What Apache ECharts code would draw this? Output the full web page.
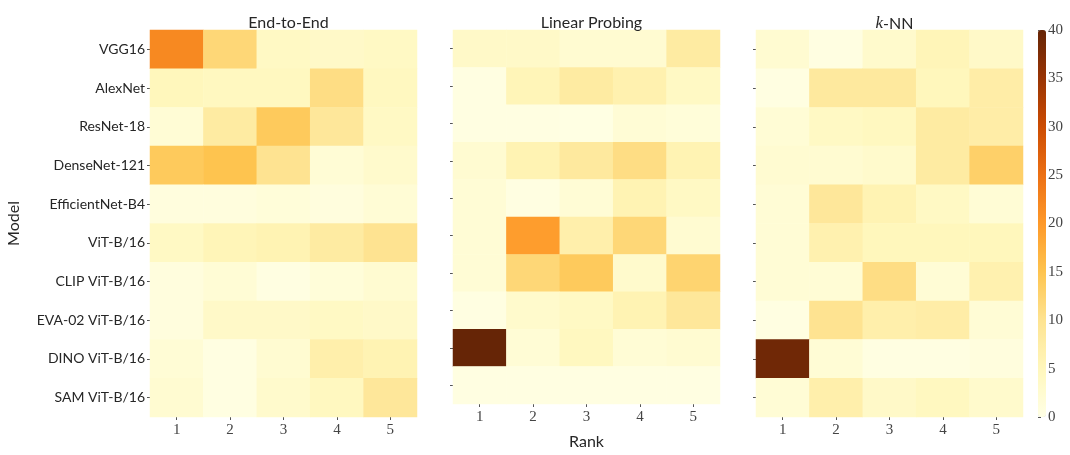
<!DOCTYPE html>
<html>
<head>
<meta charset="utf-8">
<script src="https://cdn.jsdelivr.net/npm/echarts@6/dist/echarts.min.js"></script>
<style>
  html, body { margin: 0; padding: 0; background: #fff; }
  #chart { width: 1070px; height: 455px; }
</style>
</head>
<body>
<div id="chart"></div>
<script>
// Models (rows, top to bottom) and rank columns
const models = ['VGG16', 'AlexNet', 'ResNet-18', 'DenseNet-121', 'EfficientNet-B4',
  'ViT-B/16', 'CLIP ViT-B/16', 'EVA-02 ViT-B/16', 'DINO ViT-B/16', 'SAM ViT-B/16'];
const ranks = ['1', '2', '3', '4', '5'];
const colorTicks = [0, 5, 10, 15, 20, 25, 30, 35, 40];

// Percentage per model and rank, one row per model
const endToEnd = [
  [22, 12, 4, 3.5, 4],
  [5, 4.5, 4.5, 11, 4.5],
  [2, 8, 14, 9, 4],
  [14, 15, 10, 2, 3],
  [1, 1, 1.5, 1, 2],
  [4, 5.5, 6, 8, 10],
  [1, 2, 0.5, 1.5, 2.5],
  [1, 3.5, 3.5, 4, 3.5],
  [2, 0.5, 2.5, 7, 6],
  [2.5, 0.5, 3, 4.5, 9]
];
const linearProbing = [
  [3.5, 3.5, 2.5, 2.5, 8],
  [0.5, 5.5, 8, 6.5, 4],
  [0.5, 0.5, 0.3, 2, 1.5],
  [2.5, 6, 8.5, 11, 6],
  [2, 0.5, 2, 6, 4],
  [2, 19.5, 7, 12, 2.5],
  [2, 12, 14, 3, 12.5],
  [0.5, 3, 4, 6, 9],
  [40, 2, 4.5, 2, 2.5],
  [0.5, 0.5, 0.5, 0.5, 0.5]
];
const knn = [
  [2.5, 0.5, 3, 5.5, 3.5],
  [0.5, 8.5, 8.5, 5, 7.5],
  [2, 4, 4.5, 8, 7.5],
  [2.5, 2.5, 3, 8, 13],
  [2, 9, 6, 4, 2],
  [2, 6.5, 5, 5, 5],
  [2, 2, 11, 2, 6.5],
  [0.5, 10, 7, 7.5, 2],
  [39, 2, 0.5, 0.5, 1],
  [2, 7, 3.5, 4.5, 3]
];

const panels = [endToEnd, linearProbing, knn];
const panelLeft = [150, 453, 756];
const panelWidth = 267;
const panelTop = 30;
const panelHeight = 387;

const ylorbr = ['#ffffe5', '#fff7bc', '#fee391', '#fec44f', '#fe9929',
  '#ec7014', '#cc4c02', '#993404', '#662506'];

const sansFont = 'Lato';
const serifFont = 'Liberation Serif';
const textColor = '#262626';

function toCells(table) {
  const out = [];
  table.forEach((row, y) => row.forEach((v, x) => out.push([x, y, v])));
  return out;
}

const grids = panelLeft.map(l => ({ left: l, top: panelTop, width: panelWidth, height: panelHeight }));
// narrow grid beside the colour bar, used only for its tick axis
grids.push({ left: 1038, top: panelTop, width: 8, height: panelHeight });

const xAxes = panelLeft.map((l, i) => ({
  type: 'category', gridIndex: i, data: ranks,
  axisLine: { show: false },
  axisTick: { show: true, alignWithLabel: true, length: 3, lineStyle: { color: '#555' } },
  axisLabel: { fontFamily: serifFont, fontSize: 15, color: '#444', margin: 6 },
  splitArea: { show: false },
  name: i === 1 ? 'Rank' : '', nameLocation: 'middle', nameGap: 30,
  nameTextStyle: { fontFamily: sansFont, fontSize: 16, color: textColor }
}));
xAxes.push({ type: 'value', gridIndex: 3, show: false, min: 0, max: 1 });

const yAxes = panelLeft.map((l, i) => ({
  type: 'category', gridIndex: i, data: models, inverse: true,
  axisLine: { show: false },
  axisTick: { show: true, alignWithLabel: true, length: 3, lineStyle: { color: '#555' } },
  axisLabel: { show: i === 0, fontFamily: sansFont, fontSize: 14, color: textColor, margin: 5 },
  name: i === 0 ? 'Model' : '', nameLocation: 'middle', nameGap: 128,
  nameTextStyle: { fontFamily: sansFont, fontSize: 16, color: textColor }
}));
yAxes.push({
  type: 'value', gridIndex: 3, position: 'right', min: 0, max: 40, interval: 5,
  axisLine: { show: false }, splitLine: { show: false },
  axisTick: { show: true, length: 3, lineStyle: { color: '#555' } },
  axisLabel: { fontFamily: serifFont, fontSize: 15, color: '#444', margin: 2,
    formatter: v => colorTicks.includes(v) ? String(v) : '' }
});

const series = panels.map((table, i) => ({
  type: 'heatmap', xAxisIndex: i, yAxisIndex: i, data: toCells(table),
  itemStyle: { borderWidth: 0 },
  emphasis: { disabled: true }
}));

const titleNames = ['End-to-End', 'Linear Probing', '{i|k}-NN'];
const titles = titleNames.map((t, i) => ({
  text: t, left: panelLeft[i] + panelWidth / 2, top: 10, textAlign: 'center',
  textStyle: {
    fontFamily: sansFont, fontSize: 16, fontWeight: 'normal', color: textColor,
    rich: { i: { fontFamily: serifFont, fontStyle: 'italic', fontSize: 17, color: textColor } }
  }
}));

const chart = echarts.init(document.getElementById('chart'), null, { renderer: 'canvas' });
chart.setOption({
  backgroundColor: '#ffffff',
  animation: false,
  title: titles,
  grid: grids,
  xAxis: xAxes,
  yAxis: yAxes,
  visualMap: {
    type: 'continuous', min: 0, max: 40, calculable: false,
    seriesIndex: [0, 1, 2], orient: 'vertical',
    left: 1038, top: panelTop, itemWidth: 8, itemHeight: panelHeight,
    padding: 0, text: null, showLabel: false,
    inRange: { color: ylorbr }
  },
  series: series
});
</script>
</body>
</html>
